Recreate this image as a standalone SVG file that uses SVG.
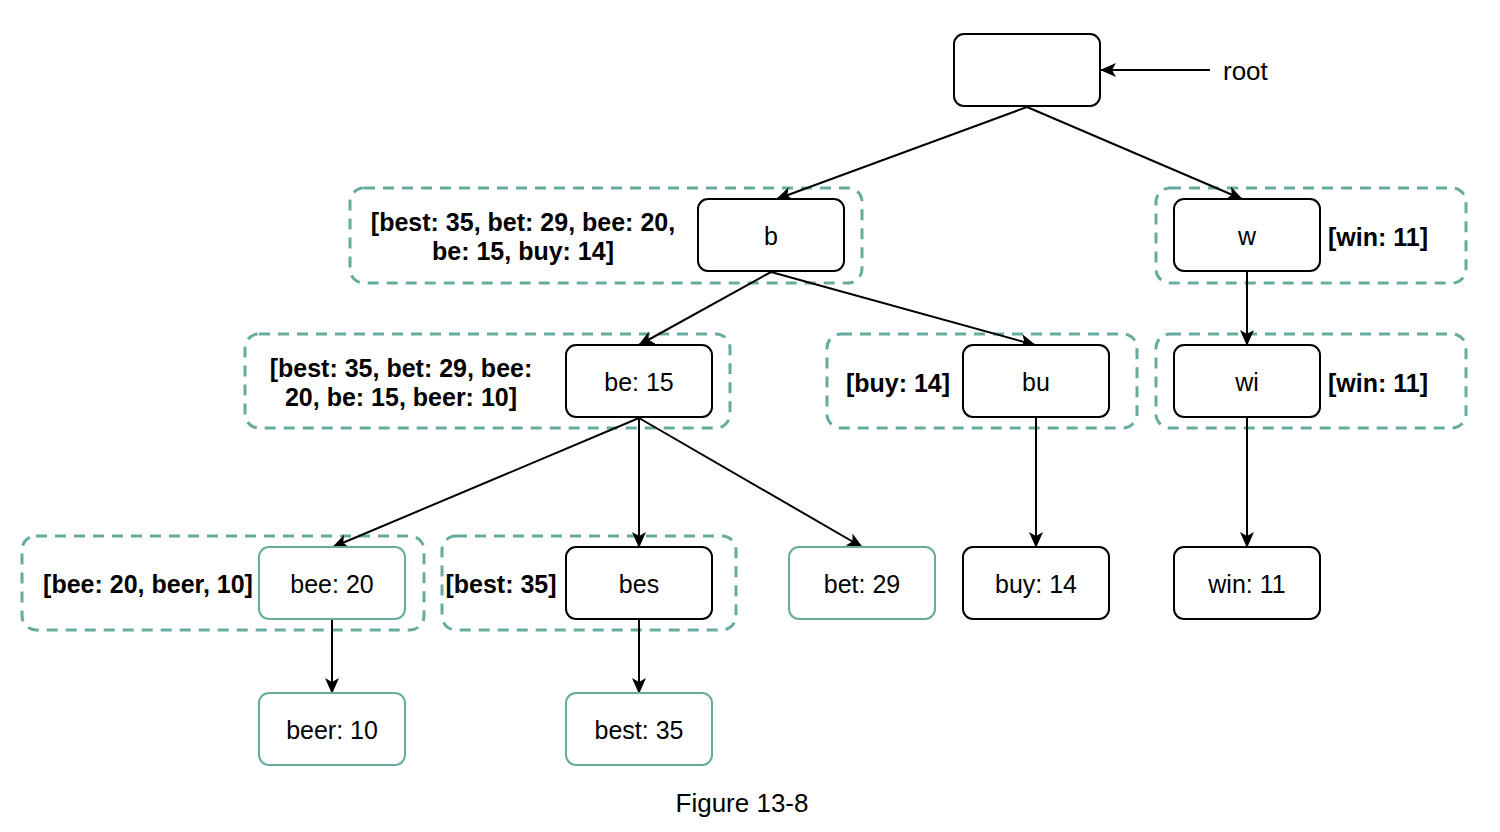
<svg xmlns="http://www.w3.org/2000/svg" width="1500" height="832" viewBox="0 0 1500 832">
<style>
.n{fill:#fff;stroke:#000;stroke-width:2}
.t{fill:#fff;stroke:#67AB9F;stroke-width:2}
.g{fill:none;stroke:#67AB9F;stroke-width:3;stroke-dasharray:11 8}
text{font-family:"Liberation Sans",Arial,sans-serif;font-size:25px;fill:#000}
.c{text-anchor:middle}
.b{font-weight:bold}
.e{stroke:#000;stroke-width:2;fill:none}
</style>
<defs>
<marker id="a" viewBox="0 0 16 14" refX="15" refY="7" markerWidth="16" markerHeight="14" markerUnits="userSpaceOnUse" orient="auto">
<path d="M0,0 L16,7 L0,14 L4,7 Z" fill="#000"/>
</marker>
</defs>
<rect width="1500" height="832" fill="#fff"/>
<g id="groups">
<rect class="g" x="350" y="188" width="512" height="95" rx="14"/>
<rect class="g" x="1156" y="188" width="310" height="95" rx="14"/>
<rect class="g" x="245" y="334" width="485" height="94" rx="14"/>
<rect class="g" x="827" y="334" width="310" height="94" rx="14"/>
<rect class="g" x="1156" y="334" width="310" height="94" rx="14"/>
<rect class="g" x="22" y="536" width="402" height="94" rx="14"/>
<rect class="g" x="442" y="536" width="294" height="94" rx="14"/>
</g>
<g id="connectors">
<line class="e" x1="1210" y1="70" x2="1101" y2="70" marker-end="url(#a)"/>
<line class="e" x1="1027" y1="107" x2="777" y2="199" marker-end="url(#a)"/>
<line class="e" x1="1027" y1="107" x2="1242" y2="199" marker-end="url(#a)"/>
<line class="e" x1="771" y1="272" x2="639" y2="345" marker-end="url(#a)"/>
<line class="e" x1="771" y1="272" x2="1035" y2="345" marker-end="url(#a)"/>
<line class="e" x1="1247" y1="272" x2="1247" y2="345" marker-end="url(#a)"/>
<line class="e" x1="639" y1="418" x2="333" y2="547" marker-end="url(#a)"/>
<line class="e" x1="639" y1="418" x2="639" y2="547" marker-end="url(#a)"/>
<line class="e" x1="639" y1="418" x2="862" y2="547" marker-end="url(#a)"/>
<line class="e" x1="1036" y1="418" x2="1036" y2="547" marker-end="url(#a)"/>
<line class="e" x1="1247" y1="418" x2="1247" y2="547" marker-end="url(#a)"/>
<line class="e" x1="332" y1="620" x2="332" y2="693" marker-end="url(#a)"/>
<line class="e" x1="639" y1="620" x2="639" y2="693" marker-end="url(#a)"/>
</g>
<g id="root"><rect class="n" x="954" y="34" width="146" height="72" rx="10"/></g>
<text x="1223" y="80" style="font-size:26px">root</text>
<g id="b"><rect class="n" x="698" y="199" width="146" height="72" rx="10"/><text class="c" x="771" y="245">b</text></g>
<g id="w"><rect class="n" x="1174" y="199" width="146" height="72" rx="10"/><text class="c" x="1247" y="245">w</text></g>
<g id="be"><rect class="n" x="566" y="345" width="146" height="72" rx="10"/><text class="c" x="639" y="391">be: 15</text></g>
<g id="bu"><rect class="n" x="963" y="345" width="146" height="72" rx="10"/><text class="c" x="1036" y="391">bu</text></g>
<g id="wi"><rect class="n" x="1174" y="345" width="146" height="72" rx="10"/><text class="c" x="1247" y="391">wi</text></g>
<g id="bee"><rect class="t" x="259" y="547" width="146" height="72" rx="10"/><text class="c" x="332" y="593">bee: 20</text></g>
<g id="bes"><rect class="n" x="566" y="547" width="146" height="72" rx="10"/><text class="c" x="639" y="593">bes</text></g>
<g id="bet"><rect class="t" x="789" y="547" width="146" height="72" rx="10"/><text class="c" x="862" y="593">bet: 29</text></g>
<g id="buy"><rect class="n" x="963" y="547" width="146" height="72" rx="10"/><text class="c" x="1036" y="593">buy: 14</text></g>
<g id="win"><rect class="n" x="1174" y="547" width="146" height="72" rx="10"/><text class="c" x="1247" y="593">win: 11</text></g>
<g id="beer"><rect class="t" x="259" y="693" width="146" height="72" rx="10"/><text class="c" x="332" y="739">beer: 10</text></g>
<g id="best"><rect class="t" x="566" y="693" width="146" height="72" rx="10"/><text class="c" x="639" y="739">best: 35</text></g>
<g id="labels">
<text class="c b" x="523" y="231">[best: 35, bet: 29, bee: 20,</text>
<text class="c b" x="523" y="260">be: 15, buy: 14]</text>
<text class="c b" x="401" y="377">[best: 35, bet: 29, bee:</text>
<text class="c b" x="401" y="406">20, be: 15, beer: 10]</text>
<text class="c b" x="898" y="392">[buy: 14]</text>
<text class="c b" x="1378" y="246">[win: 11]</text>
<text class="c b" x="1378" y="392">[win: 11]</text>
<text class="c b" x="148" y="593">[bee: 20, beer, 10]</text>
<text class="c b" x="501" y="593">[best: 35]</text>
</g>
<text class="c" x="742" y="812" style="font-size:26px">Figure 13-8</text>
</svg>
